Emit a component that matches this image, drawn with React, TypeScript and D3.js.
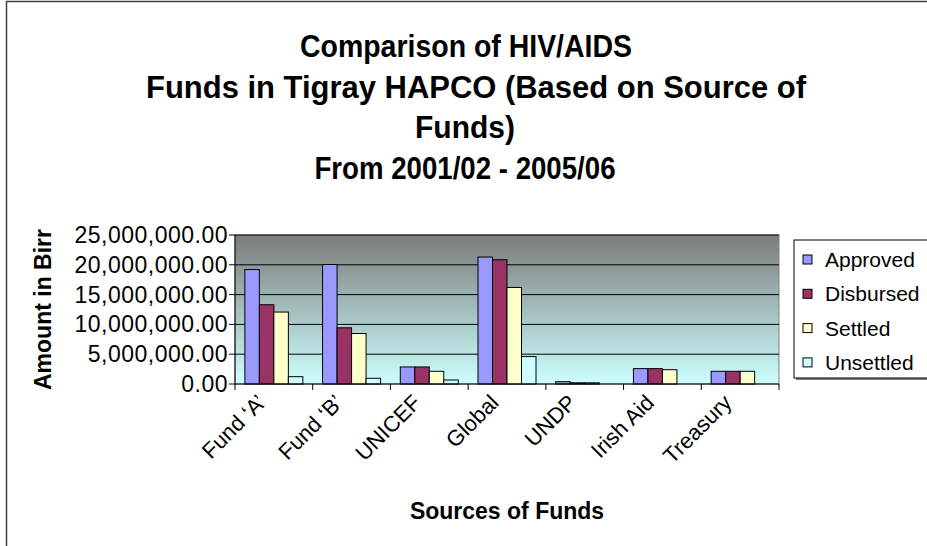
import React from "react";
import * as d3 from "d3";

const categories = ["Fund \u2018A\u2019", "Fund \u2018B\u2019", "UNICEF", "Global", "UNDP", "Irish Aid", "Treasury"];
const seriesNames = ["Approved", "Disbursed", "Settled", "Unsettled"];
const approved = [19200000, 20050000, 2860000, 21300000, 390000, 2580000, 2130000];
const disbursed = [13300000, 9430000, 2860000, 20850000, 200000, 2580000, 2130000];
const settled = [12070000, 8470000, 2130000, 16200000, 200000, 2400000, 2130000];
const unsettled = [1230000, 960000, 670000, 4600000, 0, 0, 0];
const yTicks = [0, 5000000, 10000000, 15000000, 20000000, 25000000];
const titleLines = ["Comparison of HIV/AIDS", "Funds in Tigray HAPCO (Based on Source of", "Funds)", "From 2001/02 - 2005/06"];

const seriesValues = [approved, disbursed, settled, unsettled];
const colors = ["#9999FF", "#993366", "#FFFFCC", "#CCFFFF"];

const FONT = "'Liberation Sans', Arial, Helvetica, sans-serif";

// title line widths / centres as measured on the reference layout
const titleLayout = [
  { cx: 466, w: 332 },
  { cx: 476, w: 660 },
  { cx: 465, w: 100 },
  { cx: 465, w: 301 },
];

export default function App() {
  React.useEffect(() => {
    document.body.style.margin = "0";
  }, []);

  const W = 927, H = 546;
  const left = 235, right = 779, top = 235, bottom = 384;

  const x = d3.scaleBand<string>().domain(categories).range([left, right]).paddingInner(0).paddingOuter(0);
  const xs = d3.scaleBand<string>().domain(seriesNames).range([0, x.bandwidth()]).paddingInner(0).paddingOuter(0.68);
  const y = d3.scaleLinear().domain([0, 25000000]).range([bottom, top]);
  const fmt = d3.format(",.2f");

  const boundaries = d3.range(categories.length + 1).map((i) => left + i * x.step());

  return (
    <svg width={W} height={H} style={{ display: "block", fontFamily: FONT }}>
      <defs>
        <linearGradient id="bg" x1="0" y1="0" x2="0" y2="1">
          <stop offset="0" stopColor="#7b7b7b" />
          <stop offset="1" stopColor="#ccffff" />
        </linearGradient>
      </defs>
      <rect x={0} y={0} width={W} height={H} fill="#ffffff" />
      <rect x={6.5} y={1.5} width={W + 20} height={H + 20} fill="none" stroke="#404040" strokeWidth={1.5} />

      {titleLines.map((t, i) => (
        <text key={i} x={titleLayout[i].cx} y={57 + i * 40.5} textAnchor="middle" fontSize={32} fontWeight="bold" fill="#000"
          textLength={titleLayout[i].w} lengthAdjust="spacingAndGlyphs">
          {t}
        </text>
      ))}

      <rect x={left} y={top} width={right - left} height={bottom - top} fill="url(#bg)" stroke="#808080" strokeWidth={1} />

      {yTicks.map((t) => (
        <g key={t}>
          {t > 0 && <line x1={left} x2={right} y1={y(t)} y2={y(t)} stroke="#000" strokeWidth={1} />}
          <line x1={left - 6} x2={left} y1={y(t)} y2={y(t)} stroke="#000" strokeWidth={1} />
          <text x={left - 7} y={y(t) + 8} textAnchor="end" fontSize={23} letterSpacing={0.5} fill="#000">{fmt(t)}</text>
        </g>
      ))}

      {seriesValues.map((vals, si) =>
        vals.map((v, ci) => {
          const bx = (x(categories[ci]) as number) + (xs(seriesNames[si]) as number);
          const by = y(v);
          return (
            <rect key={si + "-" + ci} x={bx} y={by} width={xs.bandwidth()} height={bottom - by}
              fill={colors[si]} stroke="#000" strokeWidth={1} />
          );
        })
      )}

      <line x1={left} x2={left} y1={top} y2={bottom + 1} stroke="#000" strokeWidth={1} />
      <line x1={left} x2={right} y1={bottom} y2={bottom} stroke="#000" strokeWidth={1} />
      {boundaries.map((b, i) => (
        <line key={i} x1={b} x2={b} y1={bottom} y2={bottom + 6} stroke="#000" strokeWidth={1} />
      ))}

      {categories.map((c) => {
        const cx = (x(c) as number) + x.bandwidth() / 2;
        return (
          <text key={c} transform={`translate(${cx - 7},${bottom + 20}) rotate(-45)`} textAnchor="end" fontSize={22} fill="#000">
            {c}
          </text>
        );
      })}

      <text transform={`translate(51,${(top + bottom) / 2}) rotate(-90)`} textAnchor="middle" fontSize={23} fontWeight="bold" fill="#000">
        Amount in Birr
      </text>
      <text x={(left + right) / 2} y={519} textAnchor="middle" fontSize={23} fontWeight="bold" fill="#000">
        Sources of Funds
      </text>

      <rect x={796} y={242} width={150} height={138} fill="#808080" />
      <rect x={794} y={240} width={150} height={138} fill="#ffffff" stroke="#000" strokeWidth={1} />
      {seriesNames.map((s, i) => {
        const cy = 259.5 + i * 34.3;
        return (
          <g key={s}>
            <rect x={803} y={cy - 4.5} width={9} height={9} fill={colors[i]} stroke="#000" strokeWidth={1} />
            <text x={825} y={cy + 7.5} fontSize={21} fill="#000">{s}</text>
          </g>
        );
      })}
    </svg>
  );
}
